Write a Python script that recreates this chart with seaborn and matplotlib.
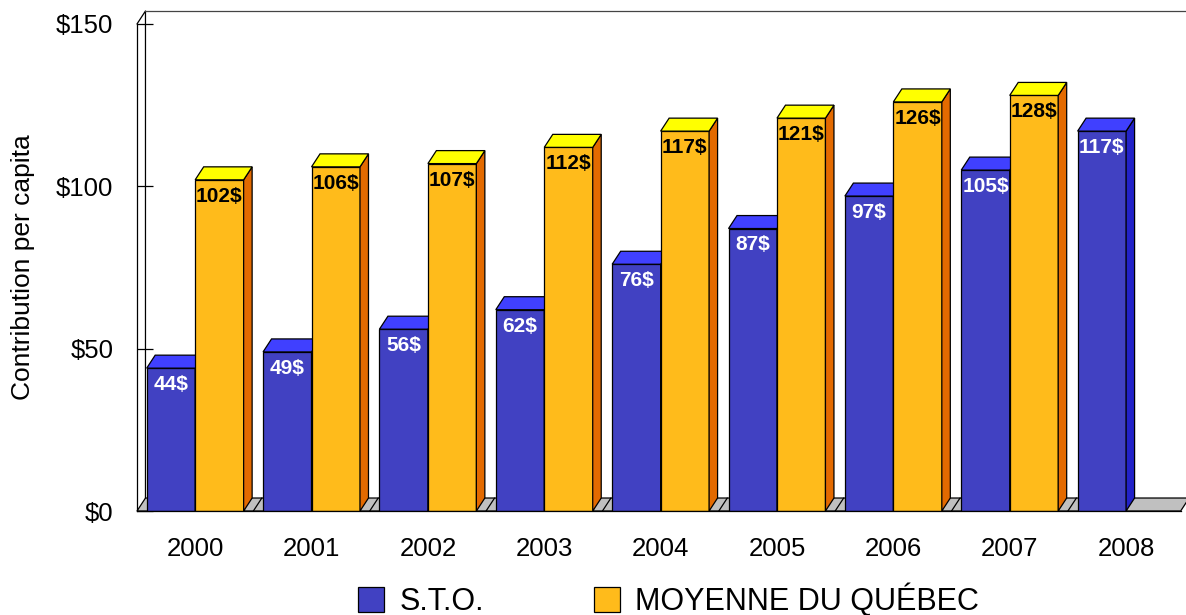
import numpy as np
import pandas as pd
import matplotlib
matplotlib.use("Agg")
import matplotlib.pyplot as plt
from matplotlib.patches import Polygon
import seaborn as sns

# ---- data ----
years = ["2000", "2001", "2002", "2003", "2004", "2005", "2006", "2007", "2008"]
sto = [44, 49, 56, 62, 76, 87, 97, 105, 117]
quebec = [102, 106, 107, 112, 117, 121, 126, 128, None]
series_names = ["S.T.O.", "MOYENNE DU QUÉBEC"]
ytick_values = [0, 50, 100, 150]
ytick_labels = ["$0", "$50", "$100", "$150"]

rows = []
for y, a, b in zip(years, sto, quebec):
    rows.append({"year": y, "series": series_names[0], "value": a})
    if b is not None:
        rows.append({"year": y, "series": series_names[1], "value": b})
df = pd.DataFrame(rows)

# ---- style ----
sns.set_theme(style="white")
plt.rcParams["font.family"] = ["Liberation Sans", "DejaVu Sans"]
plt.rcParams["text.color"] = "black"
plt.rcParams["axes.labelcolor"] = "black"
plt.rcParams["xtick.color"] = "black"
plt.rcParams["ytick.color"] = "black"

front_cols = ["#4141C2", "#FFBB1B"]
top_cols = ["#4040FF", "#FFFF00"]
side_cols = ["#2222C8", "#E36A00"]
label_cols = ["white", "black"]

fig = plt.figure(figsize=(11.86, 6.15), dpi=100)
ax = fig.add_axes([0.1155, 0.1691, 0.880, 0.7919])

sns.barplot(data=df, x="year", y="value", hue="series", order=years,
            hue_order=series_names, palette=front_cols, saturation=1,
            width=0.833, edgecolor="black", linewidth=0.9, ax=ax,
            errorbar=None)

ax.set_xlim(-0.5, 8.469)
ax.set_ylim(0, 150)

# depth of the pseudo-3D effect in data units
dx = 0.073
dy = 4.0
x_left, x_right = ax.get_xlim()

# floor
floor = Polygon([(x_left, 0), (x_right, 0), (x_right + dx, dy), (x_left + dx, dy)],
                closed=True, facecolor="#C0C0C0", edgecolor="black", lw=0.9,
                zorder=1, clip_on=False)
ax.add_patch(floor)
for i in range(len(years) - 1):
    ax.plot([i + 0.5, i + 0.5 + dx], [0, dy], color="black", lw=0.9, zorder=1.5)

# back wall
ax.plot([x_left, x_left + dx, x_left + dx], [150, 150 + dy, dy], color="black",
        lw=0.9, clip_on=False, zorder=1)
ax.plot([x_left + dx, x_right + dx + 0.2], [150 + dy, 150 + dy], color="#444444",
        lw=0.9, clip_on=False, zorder=1)

# 3D faces + labels
for k, cont in enumerate(ax.containers):
    z = 3 + k
    for bar in cont.patches:
        h = bar.get_height()
        if h is None or np.isnan(h):
            continue
        x0 = bar.get_x()
        x1 = x0 + bar.get_width()
        bar.set_zorder(z)
        side = Polygon([(x1, 0), (x1 + dx, dy), (x1 + dx, h + dy), (x1, h)],
                       closed=True, facecolor=side_cols[k], edgecolor="black",
                       lw=0.9, zorder=z)
        top = Polygon([(x0, h), (x0 + dx, h + dy), (x1 + dx, h + dy), (x1, h)],
                      closed=True, facecolor=top_cols[k], edgecolor="black",
                      lw=0.9, zorder=z)
        ax.add_patch(side)
        ax.add_patch(top)
        ax.annotate(f"{h:.0f}$", xy=((x0 + x1) / 2, h), xytext=(0, -5),
                    textcoords="offset points", ha="center", va="top",
                    fontsize=15, fontweight="bold", color=label_cols[k],
                    zorder=6)

# axes
ax.set_yticks(ytick_values)
ax.set_yticklabels(ytick_labels)
ax.tick_params(axis="y", direction="in", length=11.5, width=0.9, color="black",
               pad=17, labelsize=18.5, left=True, labelcolor="black")
ax.tick_params(axis="x", length=0, pad=19, labelsize=18.5, labelcolor="black")
ax.set_xlabel("")
ax.set_ylabel("Contribution per capita", fontsize=19, color="black")
ax.yaxis.set_label_coords(-0.098, 0.5)

for s in ["top", "right"]:
    ax.spines[s].set_visible(False)
for s in ["left", "bottom"]:
    ax.spines[s].set_color("black")
    ax.spines[s].set_linewidth(0.9)
    ax.spines[s].set_zorder(7)
ax.set_facecolor("white")

sns.move_legend(ax, "center", bbox_to_anchor=(0.5637, 0.0244),
                bbox_transform=fig.transFigure, ncol=2, title=None,
                frameon=False, fontsize=22, handlelength=0.85,
                handleheight=0.9, handletextpad=0.5, columnspacing=3.6)
for t in ax.get_legend().get_texts():
    t.set_color("black")

fig.savefig("out.png", dpi=100)
